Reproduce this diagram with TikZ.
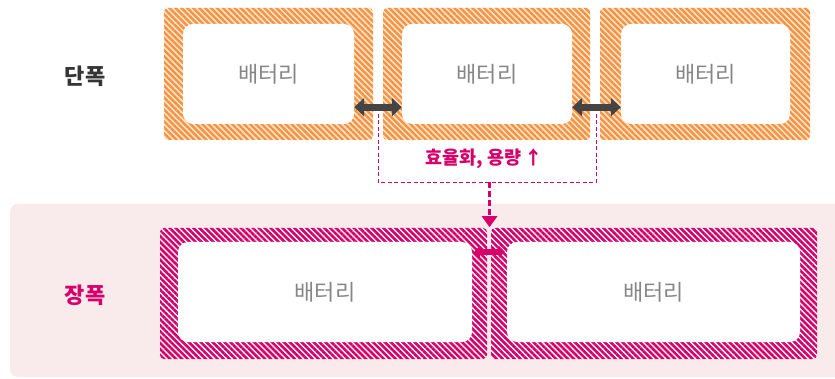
\documentclass[tikz,border=0pt]{standalone}
\usepackage{fontspec}
\setmainfont{Noto Sans CJK KR}
\usetikzlibrary{patterns.meta,arrows.meta,calc}
\definecolor{orng}{HTML}{F7913D}
\definecolor{orngl}{HTML}{FDE3CC}
\definecolor{mag}{HTML}{D6006B}
\definecolor{magl}{HTML}{FBDDE8}
\definecolor{panel}{HTML}{F9EBEB}
\definecolor{dgray}{HTML}{444444}
\definecolor{lbl}{HTML}{353535}
\definecolor{txtg}{HTML}{868686}
\tikzset{
  obox/.style={rounded corners=4pt, minimum width=#1, minimum height=132pt, inner sep=0pt,
    preaction={fill=orngl}, pattern={Lines[angle=-45,distance=4.2pt,line width=2.3pt]}, pattern color=orng},
  pbox/.style={rounded corners=4pt, minimum width=#1, minimum height=131pt, inner sep=0pt,
    preaction={fill=white}, pattern={Lines[angle=-45,distance=4.2pt,line width=2.6pt]}, pattern color=mag},
  ibox/.style={rounded corners=10pt, fill=white, minimum width=#1, minimum height=100pt, inner sep=0pt,
    font=\fontsize{22}{24}\selectfont, text=txtg},
  grayarrow/.style={line width=7pt, dgray, {Triangle[length=10pt,width=18pt]}-{Triangle[length=10pt,width=18pt]}},
  pinkarrow/.style={line width=6.5pt, mag, {Triangle[length=6pt,width=12pt]}-{Triangle[length=6pt,width=12pt]}},
  thindash/.style={mag, line width=0.9pt, dash pattern=on 4pt off 2.5pt},
  thickdash/.style={mag, line width=2.6pt, dash pattern=on 6pt off 3pt, -{Triangle[length=11pt,width=15pt]}},
  rowlabel/.style={font=\fontsize{22}{24}\selectfont\bfseries, inner sep=0pt}
}
\begin{document}
\begin{tikzpicture}[x=1pt,y=-1pt]
\useasboundingbox (0,0) rectangle (835,379);
\clip (0,0) rectangle (835,379);
\fill[white] (0,0) rectangle (835,379);
% panel
\fill[panel, rounded corners=8pt] (10,204) rectangle (860,377);
% top row
\node[obox=209pt] (b1) at (268.5,74) {};
\node[obox=207pt] (b2) at (486.5,74) {};
\node[obox=210pt] (b3) at (705,74) {};
\node[ibox=171pt] (i1) at (268.5,74) {배터리};
\node[ibox=170pt] (i2) at (487,74) {배터리};
\node[ibox=169pt] (i3) at (705.5,74) {배터리};
% bottom row
\node[pbox=327pt] (ba) at (323.5,293.5) {};
\node[pbox=326pt] (bb) at (654,293.5) {};
\node[ibox=294pt] (ia) at (325,292) {배터리};
\node[ibox=293pt] (ib) at (653.5,292) {배터리};
% labels
\node[rowlabel, text=lbl] (l1) at (85,76) {단폭};
\node[rowlabel, text=mag] (l2) at (85,295) {장폭};
% gray arrows
\coordinate (a1s) at ([yshift=17pt]i1.south east);
\coordinate (a1e) at ([yshift=17pt]i2.south west);
\coordinate (a2s) at ([yshift=17pt]i2.south east);
\coordinate (a2e) at ([yshift=17pt]i3.south west);
\coordinate (m1) at ($(a1s)!0.5!(a1e)$);
\coordinate (m2) at ($(a2s)!0.5!(a2e)$);
\coordinate (tgt) at ($(ba.north east)!0.5!(bb.north west)$);
\coordinate (j) at (tgt |- 0,182);
\draw[thindash] (m1) |- (j) -| (m2);
\draw[grayarrow] (a1s) -- (a1e);
\draw[grayarrow] (a2s) -- (a2e);
\node[font=\fontsize{18.5}{20}\selectfont\bfseries, text=mag, inner sep=0pt] (gain) at (484,159) {효율화, 용량\,↑};
\draw[thickdash] (j) -- (tgt);
% pink arrow
\draw[pinkarrow] ([yshift=-10pt,xshift=2pt]ia.north east) -- ([yshift=-10pt,xshift=-2pt]ib.north west);
\end{tikzpicture}
\end{document}
